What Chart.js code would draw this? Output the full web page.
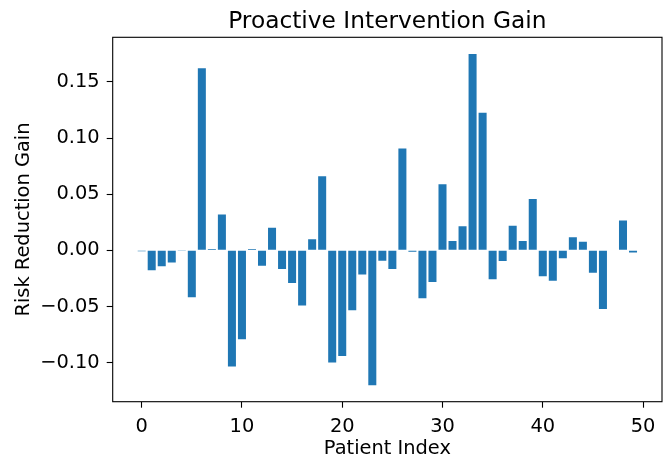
<!DOCTYPE html>
<html>
<head>
<meta charset="utf-8">
<script src="https://cdn.jsdelivr.net/npm/chart.js@4/dist/chart.umd.min.js"></script>
<style>
  html, body { margin: 0; padding: 0; background: #fff; }
  #wrap { width: 669px; height: 459px; position: relative; }
</style>
</head>
<body>
<div id="wrap"><canvas id="grafico"></canvas></div>
<script>
// Valores (ganho de redução de risco por paciente)
const gains = [
  -0.0008, -0.0178, -0.0142, -0.0107, -0.0005, -0.0418, 0.1622, 0.0012, 0.0320, -0.1035,
  -0.0792, 0.0012, -0.0136, 0.0202, -0.0166, -0.0291, -0.0492, 0.0098, 0.0661, -0.0999,
  -0.0940, -0.0534, -0.0216, -0.1201, -0.0092, -0.0166, 0.0907, -0.0012, -0.0427, -0.0282,
  0.0590, 0.0083, 0.0214, 0.1750, 0.1225, -0.0258, -0.0095, 0.0219, 0.0083, 0.0457,
  -0.0231, -0.0270, -0.0071, 0.0116, 0.0077, -0.0199, -0.0522, 0.0000, 0.0267, -0.0018
];
const patientIndex = Array.from({ length: gains.length }, (_, i) => i);
const xTicks = [0, 10, 20, 30, 40, 50];
const yTicks = [-0.10, -0.05, 0.00, 0.05, 0.10, 0.15];
const chartTitle = 'Proactive Intervention Gain';

const fontFamily = '"DejaVu Sans", sans-serif';

// Moldura completa + título centrado na área do gráfico (estilo matplotlib)
const framePlugin = {
  id: 'frame',
  afterDraw(chart) {
    const { ctx, chartArea } = chart;
    ctx.save();
    ctx.strokeStyle = '#000';
    ctx.lineWidth = 1.1;
    ctx.strokeRect(chartArea.left, chartArea.top, chartArea.right - chartArea.left, chartArea.bottom - chartArea.top);
    ctx.fillStyle = '#000';
    ctx.font = '23.3px ' + fontFamily;
    ctx.textAlign = 'center';
    ctx.textBaseline = 'alphabetic';
    ctx.fillText(chartTitle, (chartArea.left + chartArea.right) / 2, 28.3);
    ctx.restore();
  }
};

function fmtY(v) {
  const s = Math.abs(v).toFixed(2);
  return v < -1e-9 ? '\u2212' + s : s;
}

new Chart(document.getElementById('grafico'), {
  type: 'bar',
  data: {
    datasets: [{
      data: patientIndex.map((x, i) => ({ x: x, y: gains[i] })),
      backgroundColor: '#1f77b4',
      borderWidth: 0,
      barPercentage: 1,
      categoryPercentage: 0.8
    }]
  },
  plugins: [framePlugin],
  options: {
    responsive: true,
    maintainAspectRatio: false,
    animation: false,
    layout: { padding: { left: 0, right: 7, top: 37.3, bottom: 0 } },
    plugins: {
      legend: { display: false },
      tooltip: { enabled: false },
      title: { display: false }
    },
    scales: {
      x: {
        type: 'linear',
        offset: false,
        min: -2.89,
        max: 51.89,
        afterBuildTicks(scale) { scale.ticks = xTicks.map(v => ({ value: v })); },
        afterFit(scale) { scale.height = 57.3; },
        border: { display: false },
        grid: { offset: false, drawOnChartArea: false, drawTicks: true, tickLength: 6, tickColor: '#000', tickWidth: 1.1 },
        ticks: {
          color: '#000',
          padding: 8,
          maxRotation: 0,
          font: { family: fontFamily, size: 19.4 },
          callback: v => String(v)
        },
        title: {
          display: true,
          text: 'Patient Index',
          color: '#000',
          font: { family: fontFamily, size: 19.4 },
          padding: { top: 0, bottom: -2 }
        }
      },
      y: {
        min: -0.1348,
        max: 0.1898,
        afterBuildTicks(scale) { scale.ticks = yTicks.map(v => ({ value: v })); },
        afterFit(scale) { scale.width = 112.7; },
        border: { display: false },
        grid: { drawOnChartArea: false, drawTicks: true, tickLength: 6, tickColor: '#000', tickWidth: 1.1 },
        ticks: {
          color: '#000',
          padding: 7,
          font: { family: fontFamily, size: 19.4 },
          callback: v => fmtY(v)
        },
        title: {
          display: true,
          text: 'Risk Reduction Gain',
          color: '#000',
          font: { family: fontFamily, size: 19.4 },
          padding: { top: 12, bottom: 0 }
        }
      }
    }
  }
});
</script>
</body>
</html>
